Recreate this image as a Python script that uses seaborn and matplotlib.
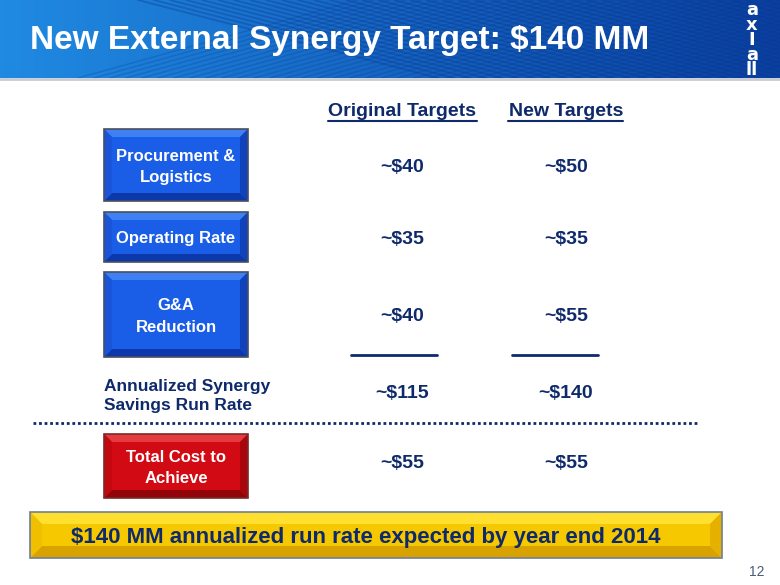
import numpy as np
import matplotlib
matplotlib.use("Agg")
import matplotlib.pyplot as plt
from matplotlib.patches import Rectangle, Polygon
import seaborn as sns

# ---- data ----
categories = ["Procurement &\nLogistics", "Operating Rate", "G&A\nReduction"]
original_targets = [40, 35, 40]
new_targets = [50, 35, 55]
run_rate_label = "Annualized Synergy\nSavings Run Rate"
run_rate_original = 115
run_rate_new = 140
cost_label = "Total Cost to\nAchieve"
cost_original = 55
cost_new = 55
column_headers = ["Original Targets", "New Targets"]
title = "New External Synergy Target: $140 MM"
banner = "$140 MM annualized run rate expected by year end 2014"
page_number = "12"
logo = "a\nx\nI\na\nll"

sns.set_theme(style="white")
plt.rcParams['font.family'] = ['Liberation Sans', 'DejaVu Sans']

NAVY = "#0f2a6b"

fig = plt.figure(figsize=(7.8, 5.85), dpi=100)
ax = fig.add_axes([0, 0, 1, 1])
ax.set_xlim(0, 780)
ax.set_ylim(585, 0)
ax.axis("off")
fig.patch.set_facecolor("white")

# ---- header band ----
grad = np.linspace(0, 1, 256)
c0 = np.array([0x20, 0x8a, 0xe2]) / 255
c1 = np.array([0x0a, 0x40, 0xa0]) / 255
img = (c0[None, :] * (1 - grad[:, None]) + c1[None, :] * grad[:, None])[None, :, :]
ax.imshow(img, extent=[0, 780, 78, 0], aspect="auto", zorder=0)
for k in range(-12, 30):
    x0 = 330 + k * 16
    ax.plot([x0, x0 + 300], [0, 78], color="#0a3690", lw=1.3, alpha=0.35, zorder=1)
    ax.plot([x0 + 220, x0 - 60], [0, 78], color="#0a3690", lw=1.0, alpha=0.25, zorder=1)
ax.set_xlim(0, 780)
ax.set_ylim(585, 0)
ax.plot([0, 780], [78.5, 78.5], color="#c8ccd4", lw=2, zorder=2)

ax.text(30, 41, title, color="white", fontsize=24, fontweight="bold",
        va="center", ha="left", zorder=3)
ax.text(752, 40, logo, color="white", fontsize=13, fontweight="bold", ha="center",
        va="center", linespacing=0.8, zorder=3, family=["DejaVu Sans"])


def bevel_box(x, y, w, h, face, top, left, bottom, right, edge, b=8):
    pts_top = [(x, y), (x + w, y), (x + w - b, y + b), (x + b, y + b)]
    pts_bot = [(x, y + h), (x + w, y + h), (x + w - b, y + h - b), (x + b, y + h - b)]
    pts_left = [(x, y), (x + b, y + b), (x + b, y + h - b), (x, y + h)]
    pts_right = [(x + w, y), (x + w - b, y + b), (x + w - b, y + h - b), (x + w, y + h)]
    ax.add_patch(Rectangle((x, y), w, h, facecolor=face, edgecolor="none", zorder=3))
    for pts, c in [(pts_top, top), (pts_bot, bottom), (pts_left, left), (pts_right, right)]:
        ax.add_patch(Polygon(pts, closed=True, facecolor=c, edgecolor="none", zorder=4))
    ax.add_patch(Rectangle((x, y), w, h, facecolor="none", edgecolor=edge, lw=1.2, zorder=5))


blue = dict(face="#1a5ee8", top="#3f80f2", left="#1a54d8", bottom="#0c38aa", right="#1042bc",
            edge="#4a4f60")
red = dict(face="#d20a14", top="#e43a40", left="#c40810", bottom="#90040a", right="#a8060c",
           edge="#7a2a2a")
yellow = dict(face="#f6c800", top="#ffe030", left="#f0c000", bottom="#d8a200", right="#e6b000",
              edge="#6f7f95")

col_x = [402, 566]
for cx, hdr in zip(col_x, column_headers):
    ax.text(cx, 112, hdr, color=NAVY, fontsize=14, fontweight="bold",
            ha="center", va="center", zorder=5)
ax.plot([328, 477], [121, 121], color=NAVY, lw=1.5)
ax.plot([508, 623], [121, 121], color=NAVY, lw=1.5)

VAL = dict(color=NAVY, fontsize=14, fontweight="bold", ha="center", va="center", zorder=6)
LAB = dict(color="white", fontsize=12, fontweight="bold", ha="center", va="center",
           linespacing=1.5, zorder=6)

boxes = [(129, 72), (212, 50), (272, 85)]
for (by, bh), cat, ov, nv in zip(boxes, categories, original_targets, new_targets):
    bevel_box(104, by, 144, bh, b=8, **blue)
    ax.text(176, by + bh / 2 + 2, cat, **LAB)
    cy = by + bh / 2 + 2
    ax.text(col_x[0], cy, f"~${ov}", **VAL)
    ax.text(col_x[1], cy, f"~${nv}", **VAL)

ax.plot([351, 437], [355, 355], color=NAVY, lw=2)
ax.plot([512, 598], [355, 355], color=NAVY, lw=2)

ax.text(104, 396, run_rate_label, color=NAVY, fontsize=12.5, fontweight="bold",
        ha="left", va="center", linespacing=1.4, zorder=6)
ax.text(col_x[0], 394, f"~${run_rate_original}", **VAL)
ax.text(col_x[1], 394, f"~${run_rate_new}", **VAL)

ax.plot([33, 697], [423, 423], color=NAVY, lw=2, linestyle=(0, (1, 1)))

bevel_box(104, 434, 144, 64, b=8, **red)
ax.text(176, 468, cost_label, **LAB)
ax.text(col_x[0], 464, f"~${cost_original}", **VAL)
ax.text(col_x[1], 464, f"~${cost_new}", **VAL)

bevel_box(30, 512, 692, 46, b=12, **yellow)
ax.text(366, 537, banner, color=NAVY, fontsize=16, fontweight="bold",
        ha="center", va="center", zorder=6)

ax.text(757, 572, page_number, color="#4a5a80", fontsize=10, ha="center", va="center")

fig.savefig("out.png", dpi=100)
